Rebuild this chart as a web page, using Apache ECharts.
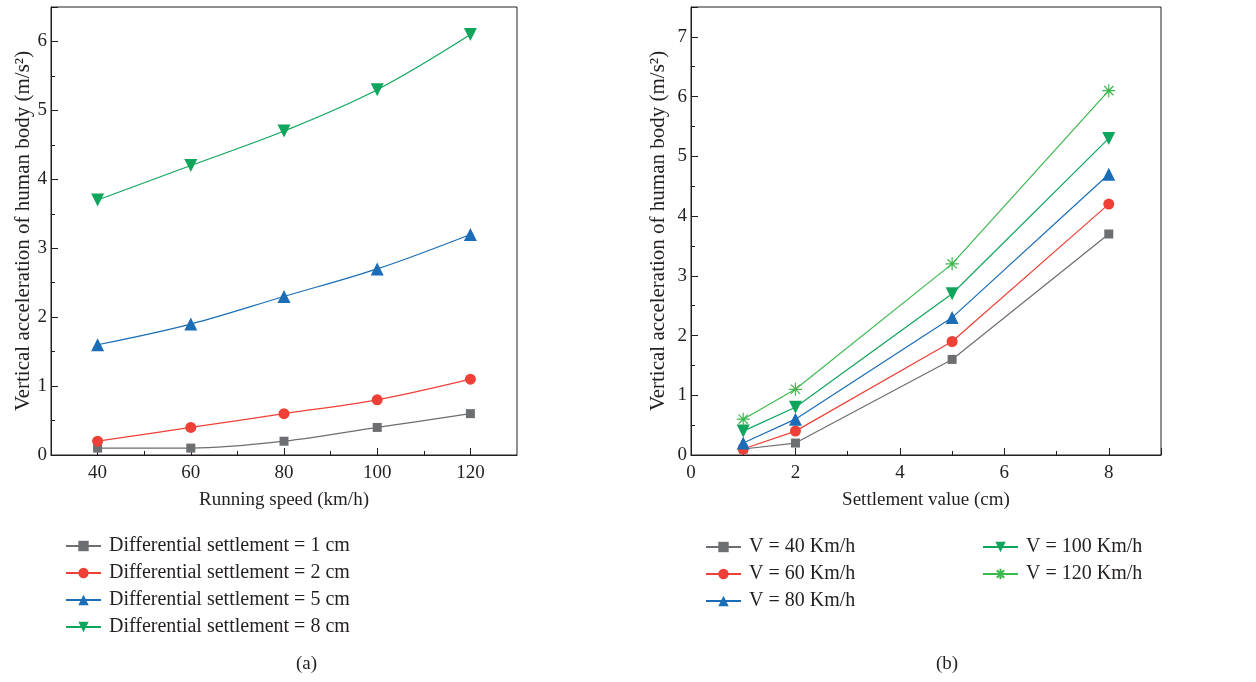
<!DOCTYPE html>
<html>
<head>
<meta charset="utf-8">
<script src="https://cdn.jsdelivr.net/npm/echarts@6/dist/echarts.min.js"></script>
<style>html,body{margin:0;padding:0;background:#fff;}#c{width:1256px;height:682px;}</style>
</head>
<body>
<div id="c"></div>
<script>
// ---- Data (a) ----
const speedsA = [40, 60, 80, 100, 120];
const namesA = ['Differential settlement = 1 cm', 'Differential settlement = 2 cm', 'Differential settlement = 5 cm', 'Differential settlement = 8 cm'];
const accA_1cm = [0.1, 0.1, 0.2, 0.4, 0.6];
const accA_2cm = [0.2, 0.4, 0.6, 0.8, 1.1];
const accA_5cm = [1.6, 1.9, 2.3, 2.7, 3.2];
const accA_8cm = [3.7, 4.2, 4.7, 5.3, 6.1];
// ---- Data (b) ----
const settlementsB = [1, 2, 5, 8];
const namesB = ['V = 40 Km/h', 'V = 60 Km/h', 'V = 80 Km/h', 'V = 100 Km/h', 'V = 120 Km/h'];
const accB_40 = [0.1, 0.2, 1.6, 3.7];
const accB_60 = [0.1, 0.4, 1.9, 4.2];
const accB_80 = [0.2, 0.6, 2.3, 4.7];
const accB_100 = [0.4, 0.8, 2.7, 5.3];
const accB_120 = [0.6, 1.1, 3.2, 6.1];
// tick labels
const xTicksA = [40, 60, 80, 100, 120];
const xMinorA = [50, 70, 90, 110];

const FONT = 'Liberation Serif';
const TXT = '#231f20';
const GRAY = '#6d6e71', RED = '#ee4036', BLUE = '#1a6db6', GREEN = '#10a55c', LGREEN = '#3cb84f';
const STAR = 'path://M0,-10L0,10M-10,0L10,0M-7.07,-7.07L7.07,7.07M-7.07,7.07L7.07,-7.07';
const TICK_FS = 19, NAME_FS = 19, YNAME_FS = 21, LEG_FS = 20;

const zip = (xs, ys) => xs.map((x, i) => [x, ys[i]]);

const chart = echarts.init(document.getElementById('c'), null, {renderer: 'canvas'});

const axisCommon = {
  axisLine: {show: true, lineStyle: {color: TXT, width: 1}},
  axisTick: {show: true, inside: true, length: 7, lineStyle: {color: TXT}},
  minorTick: {show: true, splitNumber: 2, length: 4, lineStyle: {color: TXT}},
  splitLine: {show: false},
  axisLabel: {color: TXT, fontFamily: FONT, fontSize: TICK_FS},
  nameTextStyle: {color: TXT, fontFamily: FONT, fontSize: NAME_FS},
};
const yNameStyle = {color: TXT, fontFamily: FONT, fontSize: YNAME_FS};

function mk(name, data, color, symbol, size, smooth, xi, yi, extra) {
  return Object.assign({
    name, type: 'line', data, smooth: smooth ? 0.35 : false,
    xAxisIndex: xi, yAxisIndex: yi,
    symbol, symbolSize: size,
    lineStyle: {color, width: 1.2},
    itemStyle: {color},
    emphasis: {disabled: true},
    z: 3
  }, extra || {});
}

const legendText = {color: TXT, fontFamily: FONT, fontSize: LEG_FS, lineHeight: 17, padding: [0, 0, 0, 3]};

const option = {
  animation: false,
  backgroundColor: '#fff',
  textStyle: {fontFamily: FONT, color: TXT},
  grid: [
    {left: 51, right: 739, top: 7, bottom: 227, show: true, borderColor: TXT, borderWidth: 1},
    {left: 691, right: 95, top: 7, bottom: 227, show: true, borderColor: TXT, borderWidth: 1}
  ],
  xAxis: [
    Object.assign({}, axisCommon, {
      type: 'value', gridIndex: 0, min: 30, max: 130,
      name: 'Running speed (km/h)', nameLocation: 'middle', nameGap: 36,
      axisTick: {show: true, inside: true, length: 7, lineStyle: {color: TXT}, customValues: xTicksA},
      axisLabel: {color: TXT, fontFamily: FONT, fontSize: TICK_FS, margin: 9, customValues: xTicksA},
      minorTick: {show: false}
    }),
    {
      type: 'value', gridIndex: 0, min: 30, max: 130, position: 'bottom',
      axisLine: {show: false}, axisLabel: {show: false}, splitLine: {show: false},
      axisTick: {show: true, inside: true, length: 4, lineStyle: {color: TXT}, customValues: xMinorA}
    },
    Object.assign({}, axisCommon, {
      type: 'value', gridIndex: 1, min: 0, max: 9, interval: 2,
      name: 'Settlement value (cm)', nameLocation: 'middle', nameGap: 36,
      axisLabel: {color: TXT, fontFamily: FONT, fontSize: TICK_FS, margin: 9,
        formatter: v => (v <= 8 ? String(v) : '')}
    })
  ],
  yAxis: [
    Object.assign({}, axisCommon, {
      type: 'value', gridIndex: 0, min: 0, max: 6.5, interval: 1,
      name: 'Vertical acceleration of human body (m/s²)', nameLocation: 'middle', nameGap: 17,
      nameTextStyle: yNameStyle,
      axisLabel: {color: TXT, fontFamily: FONT, fontSize: TICK_FS, margin: 4,
        formatter: v => (Number.isInteger(v) ? String(v) : '')}
    }),
    Object.assign({}, axisCommon, {
      type: 'value', gridIndex: 1, min: 0, max: 7.5, interval: 1,
      name: 'Vertical acceleration of human body (m/s²)', nameLocation: 'middle', nameGap: 22,
      nameTextStyle: yNameStyle,
      axisLabel: {color: TXT, fontFamily: FONT, fontSize: TICK_FS, margin: 4,
        formatter: v => (Number.isInteger(v) ? String(v) : '')}
    })
  ],
  legend: [
    {
      data: namesA, orient: 'vertical', left: 60, top: 531, itemWidth: 35, itemHeight: 13, itemGap: 7,
      textStyle: legendText, selectedMode: false
    },
    {
      data: namesB.slice(0, 3), orient: 'vertical', left: 700, top: 532, itemWidth: 35, itemHeight: 13, itemGap: 7,
      textStyle: legendText, selectedMode: false
    },
    {
      data: namesB.slice(3), orient: 'vertical', left: 977, top: 532, itemWidth: 35, itemHeight: 13, itemGap: 7,
      textStyle: legendText, selectedMode: false
    }
  ],
  graphic: [
    {type: 'text', left: 296, top: 655, style: {text: '(a)', font: '19px "Liberation Serif"', fill: TXT}},
    {type: 'text', left: 936, top: 655, style: {text: '(b)', font: '19px "Liberation Serif"', fill: TXT}}
  ],
  series: [
    mk(namesA[0], zip(speedsA, accA_1cm), GRAY, 'rect', 9, true, 0, 0),
    mk(namesA[1], zip(speedsA, accA_2cm), RED, 'circle', 11, true, 0, 0),
    mk(namesA[2], zip(speedsA, accA_5cm), BLUE, 'triangle', 13, true, 0, 0),
    mk(namesA[3], zip(speedsA, accA_8cm), GREEN, 'triangle', 13, true, 0, 0, {symbolRotate: 180}),
    mk(namesB[0], zip(settlementsB, accB_40), GRAY, 'rect', 9, false, 2, 1),
    mk(namesB[1], zip(settlementsB, accB_60), RED, 'circle', 11, false, 2, 1),
    mk(namesB[2], zip(settlementsB, accB_80), BLUE, 'triangle', 13, false, 2, 1),
    mk(namesB[3], zip(settlementsB, accB_100), GREEN, 'triangle', 13, false, 2, 1, {symbolRotate: 180}),
    mk(namesB[4], zip(settlementsB, accB_120), LGREEN, STAR, 13, false, 2, 1,
      {itemStyle: {color: 'rgba(0,0,0,0)', borderColor: LGREEN, borderWidth: 1.2}})
  ]
};
chart.setOption(option);
</script>
</body>
</html>
